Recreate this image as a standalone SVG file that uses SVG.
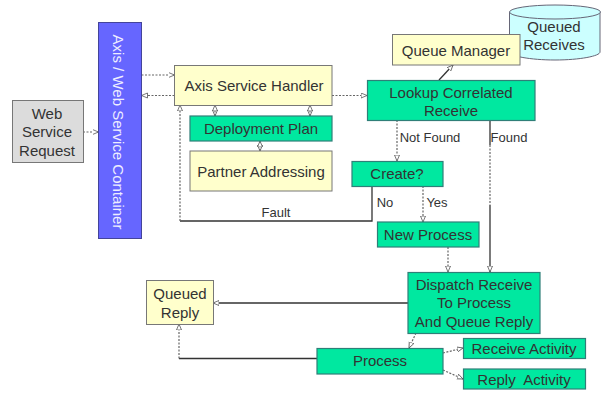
<svg xmlns="http://www.w3.org/2000/svg" width="607" height="409" viewBox="0 0 607 409">
<style>
text{font-family:"Liberation Sans",Arial,sans-serif;font-size:15px;fill:#333;text-anchor:middle;white-space:pre}
.y{fill:#ffffcc;stroke:#777;stroke-width:1}
.g{fill:#00e8a0;stroke:#2f7f78;stroke-width:1.2}
.c{fill:none;stroke:#333;stroke-width:1.3}
.d{fill:none;stroke:#666;stroke-width:1.2;stroke-dasharray:2 1.5}
.l{font-size:13px}
</style>
<defs>
<marker id="a" markerWidth="7" markerHeight="7" refX="6" refY="3" orient="auto" markerUnits="userSpaceOnUse"><path d="M0 0.500L6 3L0 5.500Z" fill="#fff" stroke="#555" stroke-width="0.8"/></marker>
</defs>
<g id="connectors">
<path class="d" marker-end="url(#a)" d="M83 132H98.500"/>
<path class="d" marker-end="url(#a)" d="M141.500 75H174.500"/>
<path class="d" marker-end="url(#a)" d="M174.500 95.500H141.500"/>
<path class="d" marker-end="url(#a)" d="M215 105V116"/>
<path class="d" marker-end="url(#a)" d="M215 116V105"/>
<path class="d" marker-end="url(#a)" d="M310 105V116"/>
<path class="d" marker-end="url(#a)" d="M310 116V105"/>
<path class="d" marker-end="url(#a)" d="M260 141V151"/>
<path class="d" marker-end="url(#a)" d="M260 151V141"/>
<path class="d" marker-end="url(#a)" d="M332 95.500H367"/>
<path class="c" marker-end="url(#a)" d="M439 80L453 65"/>
<path class="d" marker-end="url(#a)" d="M397 120V161"/>
<path class="c" d="M490 120V145"/>
<path class="d" d="M490 145V205"/>
<path class="c" marker-end="url(#a)" d="M490 205V272"/>
<path class="c" d="M372 186V221H180"/>
<path class="d" marker-end="url(#a)" d="M180 221V105"/>
<path class="d" marker-end="url(#a)" d="M423 186V222"/>
<path class="d" marker-end="url(#a)" d="M448 247V272"/>
<path class="c" marker-end="url(#a)" d="M408 303H213"/>
<path class="c" d="M317 358.500H179"/>
<path class="d" marker-end="url(#a)" d="M179 358.500V324"/>
<path class="d" marker-end="url(#a)" d="M416 333L409 348"/>
<path class="d" marker-end="url(#a)" d="M443 353L463 348"/>
<path class="d" marker-end="url(#a)" d="M443 370L463 379"/>
</g>
<g id="web-service-request"><rect x="12.500" y="100.500" width="71" height="62" fill="#dcdcdc" stroke="#777"/><text x="47" y="119">Web</text><text x="47" y="137">Service</text><text x="47" y="156">Request</text></g>
<g id="container"><rect x="98.500" y="22.500" width="43" height="216" fill="#6666ff" stroke="#44449a"/><text transform="translate(113 132) rotate(90)" style="fill:#eeeeff;font-size:15px">Axis / Web Service Container</text></g>
<g id="axis-service-handler"><rect class="y" x="174.500" y="65.500" width="157.500" height="40"/><text x="254" y="91">Axis Service Handler</text></g>
<g id="deployment-plan"><rect class="g" x="190" y="116" width="142" height="25"/><text x="261" y="134">Deployment Plan</text></g>
<g id="partner-addressing"><rect class="y" x="190" y="151" width="142" height="40"/><text x="261" y="177">Partner Addressing</text></g>
<g id="queued-receives"><path d="M509.500 12V52C509.500 56 530 60 555 60S600 56 600 52V12Z" fill="#ccffff" stroke="#667"/><ellipse cx="555" cy="12" rx="45.500" ry="7" fill="#ccffff" stroke="#667"/><text x="554" y="32">Queued</text><text x="554" y="50">Receives</text></g>
<g id="queue-manager"><rect class="y" x="392.500" y="34.500" width="127.500" height="30.500"/><text x="456" y="56">Queue Manager</text></g>
<g id="lookup"><rect class="g" x="367.500" y="80.500" width="167.500" height="40"/><text x="451" y="98">Lookup Correlated</text><text x="451" y="116">Receive</text></g>
<g id="create"><rect class="g" x="352" y="161.500" width="91" height="25"/><text x="397" y="179">Create?</text></g>
<g id="new-process"><rect class="g" x="377.500" y="222" width="101.500" height="25"/><text x="428" y="240">New Process</text></g>
<g id="dispatch"><rect class="g" x="408" y="272.500" width="132" height="61"/><text x="474" y="290">Dispatch Receive</text><text x="474" y="308">To Process</text><text x="474" y="327">And Queue Reply</text></g>
<g id="queued-reply"><rect class="y" x="146.500" y="280.500" width="67" height="44"/><text x="180" y="299">Queued</text><text x="180" y="318">Reply</text></g>
<g id="process"><rect class="g" x="317" y="348.500" width="126" height="25.500"/><text x="380" y="366">Process</text></g>
<g id="receive-activity"><rect class="g" x="463.500" y="338.500" width="122" height="20"/><text x="524" y="354">Receive Activity</text></g>
<g id="reply-activity"><rect class="g" x="463.500" y="369" width="122" height="20"/><text x="524" y="385">Reply  Activity</text></g>
<g id="labels"><text class="l" x="430" y="142">Not Found</text><text class="l" x="509" y="142">Found</text><text class="l" x="276" y="217">Fault</text><text class="l" x="385" y="207">No</text><text class="l" x="437" y="207">Yes</text></g>
</svg>
